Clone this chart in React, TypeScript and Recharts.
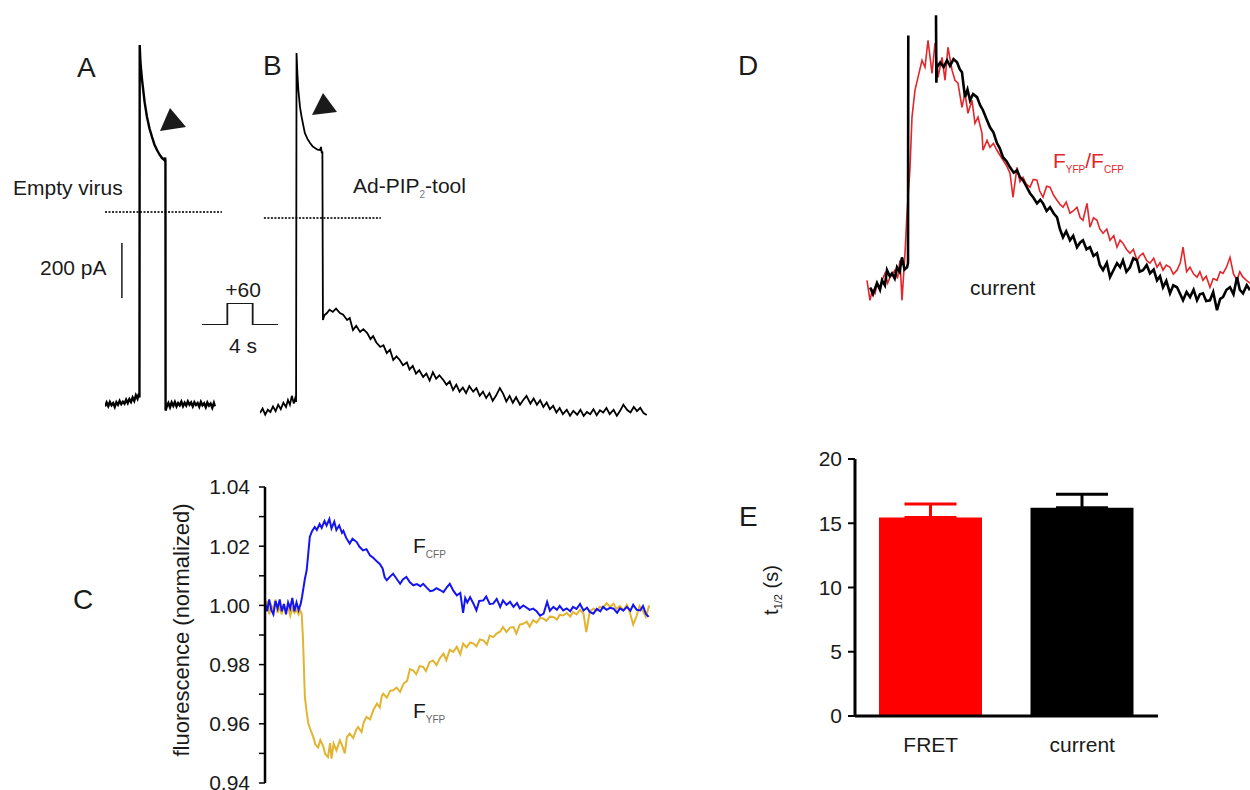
import React from 'react';
import { LineChart, Line, XAxis, YAxis, ReferenceLine, BarChart, Bar, Cell, ErrorBar } from 'recharts';

const FONT = '"Liberation Sans", Arial, Helvetica, sans-serif';
const INK = '#1a1a1a';

// Panel A: whole-cell current, empty virus (time s, current pA)
const currentA: [number, number][] = [
  [0, -700], [0.25, -686], [0.5, -699], [0.75, -684], [1, -696], [1.25, -688], [1.5, -702], [1.75, -685],
  [2, -694], [2.25, -680], [2.5, -692], [2.75, -683], [3, -690], [3.25, -676], [3.5, -688], [3.75, -674],
  [4, -684], [4.25, -668], [4.5, -680], [4.75, -660], [5, -672], [5.2, -655], [5.3, -668],
  [5.34, 601], [5.45, 540], [5.7, 475], [6.1, 395], [6.46, 342], [6.85, 300], [7.23, 270], [7.6, 243],
  [8.0, 223], [8.4, 206], [8.77, 194], [9.0, 190], [9.15, 186], [9.25, 196], [9.3, 182], [9.32, -715],
  [9.5, -700], [9.75, -688], [10, -703], [10.25, -686], [10.5, -698], [10.75, -684], [11, -700], [11.25, -688],
  [11.5, -696], [11.75, -683], [12, -699], [12.25, -687], [12.5, -697], [12.75, -682], [13, -694], [13.25, -686],
  [13.5, -700], [13.75, -685], [14, -695], [14.25, -688], [14.5, -701], [14.75, -684], [15, -696], [15.25, -689],
  [15.5, -703], [15.75, -686], [16, -697], [16.25, -690], [16.5, -705], [16.75, -688], [16.9, -700],
];

// Panel B: whole-cell current, Ad-PIP2-tool (time s, current pA)
const currentB: [number, number][] = [
  [0, -702], [0.4, -686], [0.8, -708], [1.2, -690], [1.6, -698], [2.0, -678], [2.4, -695], [2.8, -672],
  [3.2, -688], [3.6, -665], [4.0, -680], [4.3, -655], [4.6, -672], [4.9, -640], [5.2, -668], [5.4, -650], [5.55, -662],
  [5.62, 594], [5.75, 520], [5.9, 461], [6.15, 400], [6.4, 364], [6.9, 306], [7.3, 285], [7.7, 270], [8.1, 258],
  [8.46, 252], [8.85, 246], [9.23, 245], [9.38, 256], [9.5, 234], [9.6, 240], [9.68, -367],
  [9.9, -350], [10.3, -342], [10.7, -330], [11.2, -338], [11.7, -326], [12.3, -342], [12.8, -348], [13.4, -367],
  [13.8, -360], [14.3, -403], [14.8, -388], [15.4, -410], [15.9, -400], [16.5, -414], [17.0, -436], [17.4, -425],
  [17.9, -448], [18.5, -464], [19.0, -458], [19.5, -486], [20.0, -474], [20.5, -511], [21.0, -498], [21.5, -511],
  [22.0, -530], [22.6, -520], [23.0, -545], [23.5, -532], [24.0, -560], [24.5, -548], [25.1, -572], [25.6, -560],
  [26.1, -585], [26.6, -555], [27.1, -578], [27.6, -566], [28.2, -583], [28.7, -600], [29.2, -588], [29.7, -619],
  [30.2, -600], [30.7, -625], [31.2, -610], [31.7, -630], [32.2, -605], [32.8, -625], [33.3, -612], [33.8, -640],
  [34.3, -625], [34.8, -648], [35.3, -630], [35.8, -658], [36.3, -640], [36.9, -612], [37.4, -632], [37.9, -660],
  [38.4, -640], [38.9, -665], [39.4, -645], [40.0, -672], [40.5, -655], [41.0, -640], [41.6, -668], [42.1, -650],
  [42.6, -672], [43.1, -656], [43.6, -680], [44.1, -664], [44.6, -688], [45.1, -676], [45.6, -700], [46.1, -684],
  [46.6, -706], [47.2, -690], [47.7, -712], [48.2, -694], [48.8, -708], [49.3, -690], [49.8, -712], [50.3, -698],
  [50.8, -706], [51.3, -688], [51.8, -710], [52.3, -692], [52.8, -700], [53.3, -684], [53.8, -706], [54.4, -690],
  [54.9, -712], [55.4, -694], [55.9, -672], [56.5, -691], [57.0, -700], [57.5, -680], [58.0, -695], [58.5, -683],
  [59.0, -702], [59.5, -709],
];

// Voltage protocol pictogram (time s, mV)
const stepProtocol: [number, number][] = [[-4, -60], [0, -60], [0, 60], [4, 60], [4, -60], [8, -60]];

// Panel C: normalized fluorescence (time s, F/F0)
const fretCFP: [number, number][] = [
  [0, 1.001], [0.3, 0.998], [0.6, 1.002], [0.9, 0.9985], [1.2, 0.997], [1.5, 1.0015], [1.8, 0.999], [2.1, 1.002],
  [2.4, 0.998], [2.7, 1.0005], [3.0, 0.997], [3.3, 1.001], [3.6, 0.999], [3.9, 1.0025], [4.2, 0.998], [4.5, 1.001],
  [4.8, 0.9985], [5.1, 1.0005], [5.3, 1.003], [5.5, 1.006], [5.7, 1.009], [5.95, 1.0118], [6.2, 1.018], [6.4, 1.0231],
  [6.7, 1.025], [7.1, 1.0265], [7.4, 1.0255], [7.8, 1.0275], [8.1, 1.0262], [8.5, 1.0285], [8.8, 1.027], [9.2, 1.0292],
  [9.5, 1.026], [9.9, 1.0283], [10.2, 1.0255], [10.6, 1.027], [11.0, 1.0245], [11.2, 1.0252], [11.6, 1.0228], [12.1, 1.0209],
  [12.5, 1.0225], [13.1, 1.0214], [13.5, 1.0198], [14.0, 1.0186], [14.5, 1.019], [15.0, 1.0169], [15.5, 1.016], [16.0, 1.0148],
  [16.4, 1.014], [16.8, 1.0125], [17.1, 1.0095], [17.4, 1.0085], [17.9, 1.0098], [18.3, 1.0107], [18.8, 1.009], [19.3, 1.0073],
  [19.7, 1.0088], [20.2, 1.0096], [20.7, 1.0078], [21.2, 1.0068], [21.7, 1.0072], [22.2, 1.0065], [22.6, 1.0073], [23.1, 1.006],
  [23.6, 1.0048], [24.0, 1.005], [24.5, 1.0058], [25.0, 1.0052], [25.5, 1.0045], [26.0, 1.0062], [26.4, 1.0073], [26.9, 1.005],
  [27.4, 1.0034], [27.9, 1.0042], [28.3, 0.9975], [28.6, 1.0025], [28.9, 1.001], [29.3, 1.0028], [29.8, 1.0005], [30.2, 0.9983],
  [30.6, 1.0015], [31.2, 1.0017], [31.6, 1.003], [32.1, 1.0005], [32.6, 1.0006], [33.1, 1.0022], [33.6, 0.9995], [34.0, 1.0017],
  [34.5, 1.0002], [35.0, 1.0012], [35.5, 0.9995], [36.0, 1.0008], [36.4, 0.999], [36.9, 1.0], [37.4, 0.9992], [37.8, 0.9985],
  [38.3, 0.9989], [38.8, 0.998], [39.3, 0.9965], [39.8, 0.9972], [40.3, 1.0012], [40.7, 0.9982], [41.2, 0.9995], [41.7, 0.9985],
  [42.1, 0.9998], [42.6, 0.9983], [43.1, 0.999], [43.6, 0.998], [44.0, 0.9995], [44.5, 0.9988], [45.0, 1.0005], [45.5, 0.9983],
  [46.0, 0.9992], [46.4, 0.9978], [46.9, 0.9972], [47.4, 0.9988], [47.9, 0.998], [48.3, 0.9995], [48.8, 0.9985], [49.3, 0.9992],
  [49.8, 0.9989], [50.3, 0.9975], [50.7, 0.999], [51.2, 0.9983], [51.7, 0.9995], [52.2, 0.9982], [52.6, 1.0002], [53.1, 0.9985],
  [53.6, 0.9983], [54.0, 0.9998], [54.4, 0.9972], [54.8, 0.9961],
];

const fretYFP: [number, number][] = [
  [0, 0.999], [0.3, 1.0015], [0.6, 0.997], [0.9, 1.0], [1.2, 0.9985], [1.5, 1.002], [1.8, 0.9975], [2.1, 0.9995],
  [2.4, 0.997], [2.7, 1.0005], [3.0, 0.998], [3.3, 0.9995], [3.6, 0.9965], [3.9, 0.999], [4.2, 0.9975], [4.5, 0.9985],
  [4.8, 0.997], [5.0, 0.9985], [5.24, 0.9972], [5.4, 0.99], [5.5, 0.9837], [5.6, 0.976], [5.7, 0.969], [5.95, 0.964],
  [6.2, 0.96], [6.5, 0.958], [6.9, 0.9555], [7.2, 0.953], [7.6, 0.952], [7.9, 0.9545], [8.3, 0.9525], [8.6, 0.9498],
  [9.0, 0.9488], [9.3, 0.9535], [9.5, 0.9482], [9.8, 0.9533], [10.2, 0.951], [10.7, 0.9544], [11.0, 0.9528], [11.4, 0.95],
  [11.7, 0.9555], [12.1, 0.9567], [12.6, 0.9552], [13.0, 0.9578], [13.3, 0.9589], [13.8, 0.9572], [14.1, 0.9605], [14.5, 0.9623],
  [15.0, 0.9615], [15.5, 0.9648], [16.0, 0.9668], [16.4, 0.9655], [16.7, 0.9695], [16.9, 0.9702], [17.4, 0.9688], [17.9, 0.9712],
  [18.3, 0.9713], [18.8, 0.9722], [19.3, 0.9708], [19.8, 0.9736], [20.3, 0.9745], [20.7, 0.9785], [21.2, 0.978], [21.6, 0.9768],
  [22.1, 0.9795], [22.6, 0.9792], [23.0, 0.9778], [23.5, 0.9808], [24.0, 0.9814], [24.5, 0.9798], [25.0, 0.9822], [25.5, 0.9837],
  [25.9, 0.9815], [26.4, 0.985], [26.9, 0.9843], [27.4, 0.986], [27.9, 0.9835], [28.3, 0.9871], [28.8, 0.9858], [29.3, 0.9875],
  [29.8, 0.9871], [30.2, 0.9862], [30.7, 0.9885], [31.2, 0.9882], [31.7, 0.9868], [32.1, 0.9898], [32.6, 0.9893], [33.1, 0.9905],
  [33.6, 0.9912], [34.0, 0.9927], [34.5, 0.991], [35.0, 0.9925], [35.5, 0.9927], [35.9, 0.9905], [36.4, 0.9935], [36.9, 0.9938],
  [37.4, 0.9945], [37.8, 0.9928], [38.3, 0.995], [38.8, 0.9942], [39.3, 0.9958], [39.8, 0.9955], [40.2, 0.9948], [40.7, 0.9962],
  [41.2, 0.9961], [41.7, 0.9952], [42.1, 0.9968], [42.6, 0.9966], [43.1, 0.9975], [43.6, 0.9962], [44.0, 0.9978], [44.5, 0.997],
  [45.0, 0.9985], [45.5, 0.9972], [45.9, 0.991], [46.4, 0.998], [46.9, 0.9989], [47.4, 0.9982], [47.8, 0.9995], [48.3, 0.9992],
  [48.8, 1.0008], [49.3, 0.9995], [49.8, 1.0006], [50.2, 0.9988], [50.7, 0.9998], [51.2, 0.9983], [51.7, 1.0002], [52.1, 0.9978],
  [52.6, 0.9935], [53.1, 0.9965], [53.5, 0.9998], [54.0, 0.998], [54.4, 0.9962], [54.9, 1.0],
];
const fluorTicks = [0.94, 0.95, 0.96, 0.97, 0.98, 0.99, 1.0, 1.01, 1.02, 1.03, 1.04];

// Panel D: normalized FRET ratio and current (time s, normalized)
const ratioD: [number, number][] = [
  [0.14, 0.022], [0.57, -0.067], [0.9, -0.02], [1.29, -0.036], [1.6, 0.01], [2.0, -0.009], [2.4, 0.03], [2.71, 0.053],
  [3.1, 0.01], [3.43, 0.036], [3.8, 0.05], [4.14, 0.067], [4.5, 0.03], [4.86, 0.111], [5.14, -0.067], [5.57, 0.142],
  [5.86, 0.32], [6.29, 0.524], [6.57, 0.747], [7.0, 0.867], [7.43, 0.924], [8.0, 1.0], [8.43, 0.969], [8.86, 1.089],
  [9.43, 0.942], [9.86, 1.076], [10.29, 0.924], [10.86, 1.013], [11.29, 0.911], [11.71, 1.058], [12.29, 0.956], [12.71, 0.911],
  [13.14, 0.898], [13.71, 0.791], [14.14, 0.853], [14.57, 0.764], [15.14, 0.822], [15.57, 0.72], [16.0, 0.747], [16.57, 0.676],
  [16.71, 0.6], [17.29, 0.644], [17.71, 0.613], [18.2, 0.63], [18.71, 0.6], [19.1, 0.58], [19.57, 0.556], [20.1, 0.53],
  [20.57, 0.498], [21.0, 0.391], [21.57, 0.524], [22.0, 0.46], [22.43, 0.48], [22.9, 0.45], [23.43, 0.436], [23.9, 0.47],
  [24.43, 0.467], [24.8, 0.42], [25.29, 0.391], [25.8, 0.44], [26.29, 0.436], [26.8, 0.4], [27.29, 0.378], [27.7, 0.36],
  [28.14, 0.347], [28.6, 0.37], [29.14, 0.32], [29.6, 0.33], [30.14, 0.347], [30.6, 0.3], [31.0, 0.289], [31.57, 0.364],
  [32.0, 0.258], [32.5, 0.3], [33.0, 0.289], [33.4, 0.25], [33.86, 0.231], [34.4, 0.25], [34.86, 0.2], [35.4, 0.22],
  [35.86, 0.169], [36.3, 0.2], [36.71, 0.187], [37.2, 0.16], [37.71, 0.142], [38.2, 0.16], [38.71, 0.111], [39.1, 0.13],
  [39.57, 0.142], [40.1, 0.11], [40.57, 0.098], [41.1, 0.12], [41.57, 0.08], [42.0, 0.1], [42.43, 0.067], [42.9, 0.09],
  [43.43, 0.08], [43.9, 0.05], [44.43, 0.067], [44.9, 0.1], [45.29, 0.169], [45.8, 0.06], [46.29, 0.08], [46.8, 0.05],
  [47.29, 0.036], [47.7, 0.06], [48.14, 0.022], [48.6, 0.04], [49.14, -0.009], [49.6, 0.03], [50.14, 0.022], [50.6, 0.06],
  [51.0, 0.053], [51.5, 0.08], [52.0, 0.124], [52.5, 0.05], [53.0, 0.022], [53.4, 0.06], [53.86, 0.036], [54.4, 0.02],
  [54.86, 0.009],
];

const currentD: [number, number | null][] = [
  [0.6, -0.01], [1.0, -0.04], [1.57, 0.01], [2.0, -0.02], [2.29, 0.022], [2.7, 0.0], [3.0, 0.067], [3.4, 0.04],
  [3.71, 0.053], [4.1, 0.03], [4.43, 0.08], [4.8, 0.06], [5.14, 0.124], [5.5, 0.07], [5.86, 0.08], [6.0, 0.098],
  [6.04, 1.11], [6.06, null],
  [10.0, 1.2], [10.05, 0.9], [10.14, 0.969], [10.6, 0.99], [11.1, 0.97], [11.57, 1.0], [12.0, 0.975], [12.5, 1.005],
  [13.0, 0.991], [13.4, 0.96], [13.71, 0.947], [14.14, 0.836], [14.5, 0.87], [14.86, 0.822], [15.3, 0.85], [15.86, 0.836],
  [16.3, 0.8], [16.71, 0.778], [17.2, 0.74], [17.71, 0.702], [18.2, 0.68], [18.71, 0.631], [19.1, 0.61], [19.57, 0.569],
  [20.1, 0.55], [20.57, 0.524], [21.1, 0.5], [21.57, 0.511], [22.0, 0.48], [22.43, 0.467], [22.9, 0.44], [23.43, 0.409],
  [23.9, 0.39], [24.43, 0.364], [24.9, 0.38], [25.29, 0.364], [25.8, 0.33], [26.29, 0.347], [26.8, 0.32], [27.29, 0.302],
  [27.7, 0.25], [28.14, 0.213], [28.6, 0.24], [29.14, 0.2], [29.6, 0.22], [30.14, 0.169], [30.6, 0.19], [31.0, 0.2],
  [31.5, 0.16], [32.0, 0.169], [32.5, 0.13], [33.0, 0.142], [33.4, 0.09], [33.86, 0.067], [34.4, 0.1], [34.86, 0.036],
  [35.4, 0.07], [35.86, 0.098], [36.3, 0.08], [36.71, 0.111], [37.2, 0.06], [37.71, 0.08], [38.2, 0.12], [38.71, 0.111],
  [39.1, 0.06], [39.57, 0.067], [40.1, 0.09], [40.57, 0.053], [41.1, 0.07], [41.57, 0.022], [42.0, 0.04], [42.43, -0.009],
  [42.9, 0.02], [43.43, -0.036], [43.9, 0.0], [44.43, -0.009], [44.9, -0.04], [45.29, -0.067], [45.8, -0.03], [46.29, -0.053],
  [46.8, -0.02], [47.29, -0.067], [47.7, -0.04], [48.14, -0.036], [48.6, -0.07], [49.14, -0.067], [49.6, -0.03], [50.14, -0.111],
  [50.6, -0.06], [51.0, -0.053], [51.5, -0.02], [52.0, -0.009], [52.5, -0.04], [53.0, 0.036], [53.4, -0.02], [53.86, -0.036],
  [54.4, 0.0], [54.86, -0.022],
];

// Panel E: half-time of decay (s)
const barCategories = ['FRET', 'current'];
const barMeans = [15.45, 16.2];
const barSEM = [1.05, 1.05];
const barColors = ['#FF0000', '#000000'];
const barTicks = [0, 5, 10, 15, 20];

const pts = (arr: [number, number | null][]) => arr.map(([t, v]) => ({ t, v }));

const barRows = barCategories.map((name, i) => ({
  name,
  mean: barMeans[i],
  errRed: i === 0 ? [0, barSEM[i]] : undefined,
  errBlack: i === 1 ? [0, barSEM[i]] : undefined,
}));

const ZERO = { top: 0, right: 0, bottom: 0, left: 0 };

function Trace(props: {
  left: number; top: number; width: number; height: number;
  xDomain: [number, number]; yDomain: [number, number]; children: React.ReactNode;
}) {
  const { left, top, width, height, xDomain, yDomain, children } = props;
  return (
    <div style={{ position: 'absolute', left, top, width, height }}>
      <LineChart width={width} height={height} margin={ZERO}>
        <XAxis type="number" dataKey="t" domain={xDomain} hide allowDataOverflow />
        <YAxis type="number" dataKey="v" domain={yDomain} hide allowDataOverflow />
        {children}
      </LineChart>
    </div>
  );
}

const txt = { fontFamily: FONT, fill: INK } as const;

export default function App() {
  return (
    <div style={{ position: 'absolute', left: 0, top: 0, width: 1250, height: 790, overflow: 'hidden', background: '#fff', fontFamily: FONT }}>
      {/* Panel A */}
      <Trace left={105} top={30} width={117} height={400} xDomain={[0, 18]} yDomain={[-785, 655]}>
        <ReferenceLine y={0} stroke="#333" strokeWidth={2} strokeDasharray="2 1.5" />
        <ReferenceLine segment={[{ x: 2.6, y: -112 }, { x: 2.6, y: -310 }]} stroke={INK} strokeWidth={1.5} />
        <Line data={pts(currentA)} dataKey="v" stroke="#000" strokeWidth={2.4} dot={false} isAnimationActive={false} />
      </Trace>

      {/* Voltage protocol */}
      <Trace left={202} top={303} width={76} height={22} xDomain={[-4, 8]} yDomain={[-60, 60]}>
        <Line data={pts(stepProtocol)} dataKey="v" stroke={INK} strokeWidth={1.8} dot={false} isAnimationActive={false} />
      </Trace>

      {/* Panel B */}
      <Trace left={260} top={30} width={390} height={400} xDomain={[0, 60]} yDomain={[-763, 677]}>
        <ReferenceLine segment={[{ x: 0.6, y: 0 }, { x: 18.6, y: 0 }]} stroke="#333" strokeWidth={2} strokeDasharray="2 1.5" />
        <Line data={pts(currentB)} dataKey="v" stroke="#000" strokeWidth={1.8} dot={false} isAnimationActive={false} />
      </Trace>

      {/* Panel D */}
      <Trace left={866} top={4} width={385} height={315} xDomain={[0, 55]} yDomain={[-0.15, 1.25]}>
        <Line data={pts(ratioD)} dataKey="v" stroke="#E3262A" strokeWidth={1.6} dot={false} isAnimationActive={false} />
        <Line data={pts(currentD)} dataKey="v" stroke="#000" strokeWidth={2.6} dot={false} connectNulls={false} isAnimationActive={false} />
      </Trace>

      {/* Panel C */}
      <div style={{ position: 'absolute', left: 150, top: 465, width: 507, height: 340 }}>
        <LineChart width={507} height={340} margin={{ top: 22, right: 0, bottom: 22, left: 0 }}>
          <XAxis type="number" dataKey="t" domain={[0, 56]} hide allowDataOverflow />
          <YAxis
            type="number"
            dataKey="v"
            width={115}
            domain={[0.94, 1.04]}
            ticks={fluorTicks}
            interval={0}
            allowDataOverflow
            tickSize={6}
            tickMargin={9}
            axisLine={{ stroke: '#000', strokeWidth: 2.5 }}
            tickLine={{ stroke: '#000', strokeWidth: 1.5 }}
            tick={{ fontSize: 21, fill: INK, fontFamily: FONT }}
            tickFormatter={(v: number) => (Math.round(v * 100) % 2 === 0 ? v.toFixed(2) : '')}
          />
          <Line data={pts(fretYFP)} dataKey="v" stroke="#E3B432" strokeWidth={2} dot={false} isAnimationActive={false} />
          <Line data={pts(fretCFP)} dataKey="v" stroke="#1414F0" strokeWidth={2} dot={false} isAnimationActive={false} />
        </LineChart>
      </div>

      {/* Panel E */}
      <div style={{ position: 'absolute', left: 790, top: 437, width: 368, height: 329 }}>
        <BarChart width={368} height={329} data={barRows} margin={{ top: 22, right: 0, bottom: 0, left: 0 }}>
          <XAxis
            dataKey="name"
            height={50}
            tickLine={false}
            tickMargin={15}
            axisLine={{ stroke: '#000', strokeWidth: 3 }}
            tick={{ fontSize: 21, fill: INK, fontFamily: FONT }}
          />
          <YAxis
            width={65}
            domain={[0, 20]}
            ticks={barTicks}
            interval={0}
            tickSize={7}
            tickMargin={6}
            axisLine={{ stroke: '#000', strokeWidth: 3 }}
            tickLine={{ stroke: '#000', strokeWidth: 2 }}
            tick={{ fontSize: 21, fill: INK, fontFamily: FONT }}
          />
          <Bar dataKey="mean" barSize={103} isAnimationActive={false}>
            {barRows.map((r, i) => (
              <Cell key={r.name} fill={barColors[i]} />
            ))}
            <ErrorBar dataKey="errRed" width={26} stroke="#FF0000" strokeWidth={3} isAnimationActive={false} />
            <ErrorBar dataKey="errBlack" width={26} stroke="#000000" strokeWidth={3} isAnimationActive={false} />
          </Bar>
        </BarChart>
      </div>

      {/* Annotations */}
      <svg width={1250} height={790} style={{ position: 'absolute', left: 0, top: 0, pointerEvents: 'none' }}>
        <g style={txt}>
          <text x={77} y={77} fontSize={28} {...txt}>A</text>
          <text x={263} y={75} fontSize={28} {...txt}>B</text>
          <text x={73} y={609} fontSize={28} {...txt}>C</text>
          <text x={738} y={75} fontSize={28} {...txt}>D</text>
          <text x={739} y={526} fontSize={28} {...txt}>E</text>

          <text x={13} y={195} fontSize={21} {...txt}>Empty virus</text>
          <text x={40} y={275} fontSize={21} {...txt}>200 pA</text>
          <text x={243} y={297} fontSize={21} textAnchor="middle" {...txt}>+60</text>
          <text x={243} y={353} fontSize={21} textAnchor="middle" {...txt}>4 s</text>
          <text x={353} y={193} fontSize={21} {...txt}>
            Ad-PIP<tspan fontSize={10} dy={5} fill="#777">2</tspan><tspan dy={-5}>-tool</tspan>
          </text>

          <text x={413} y={553} fontSize={21} {...txt}>
            F<tspan fontSize={10} dy={5} fill="#666">CFP</tspan>
          </text>
          <text x={413} y={718} fontSize={21} {...txt}>
            F<tspan fontSize={10} dy={5} fill="#666">YFP</tspan>
          </text>
          <text transform="translate(189,630) rotate(-90)" textAnchor="middle" fontSize={22} {...txt}>
            fluorescence (normalized)
          </text>

          <text x={1053} y={168} fontSize={21} fontFamily={FONT} fill="#E3262A">
            F<tspan fontSize={10} dy={5}>YFP</tspan><tspan dy={-5}>/F</tspan><tspan fontSize={10} dy={5}>CFP</tspan>
          </text>
          <text x={970} y={295} fontSize={21} {...txt}>current</text>

          <text transform="translate(778,590) rotate(-90)" textAnchor="middle" fontSize={20} {...txt}>
            t<tspan fontSize={11} dy={4}>1/2</tspan><tspan dy={-4}> (s)</tspan>
          </text>
        </g>
        <polygon points="170,108 160,131 186,127" fill={INK} />
        <polygon points="323,93 312,115 337,112" fill={INK} />
      </svg>
    </div>
  );
}
